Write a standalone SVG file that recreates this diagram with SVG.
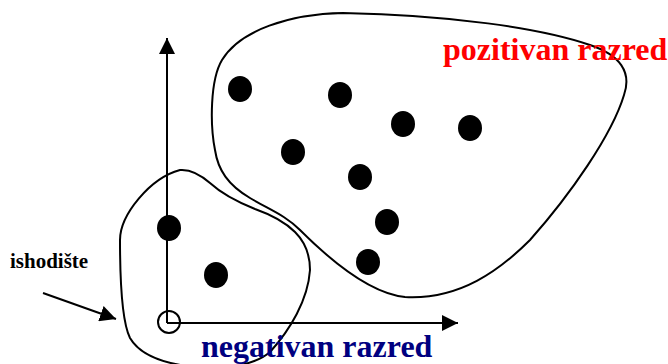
<svg xmlns="http://www.w3.org/2000/svg" width="668" height="364" viewBox="0 0 668 364">
  <style>
    .blob { fill: none; stroke: #000; stroke-width: 2; }
    .line { fill: none; stroke: #000; stroke-width: 2; }
    .pt { fill: #000; }
    .lbl { font-family: "Liberation Serif", "Times New Roman", serif; font-weight: bold; }
  </style>
  <defs>
    <marker id="arrow" markerUnits="userSpaceOnUse" viewBox="0 0 16 16" markerWidth="16" markerHeight="16" refX="16" refY="8" orient="auto">
      <path d="M0,0 L16,8 L0,16 Z" fill="#000"/>
    </marker>
  </defs>
  <rect width="668" height="364" fill="#fff"/>

  <g id="positive-class">
    <path class="blob" d="M343,13 C290,14 240,30 222,60 C210,80 210,125 215,150 C218,170 228,185 250,198 C270,210 285,215 300,230 C320,250 365,293 405,297 C460,300 500,270 530,240 C570,195 612,135 624,95 C632,72 620,55 590,45 C540,28 450,15 343,13 Z"/>
    <text class="lbl" x="443" y="60" font-size="32" fill="#ff0000">pozitivan razred</text>
  </g>

  <g id="negative-class">
    <path class="blob" d="M180,170 C192,169 202,176 210,183 C222,194 240,203 255,209 C272,215 285,222 295,232 C305,242 310,255 310,270 C308,300 290,330 270,352 C255,365 225,370 195,367 C165,364 140,355 130,338 C122,322 120,280 120,240 C120,215 150,178 180,170 Z"/>
    <text class="lbl" x="201" y="357" font-size="32" fill="#000080">negativan razred</text>
  </g>

  <g id="connectors">
    <line id="y-axis" class="line" x1="167" y1="323" x2="167" y2="38" marker-end="url(#arrow)"/>
    <line id="x-axis" class="line" x1="167" y1="323" x2="458" y2="323" marker-end="url(#arrow)"/>
    <line id="origin-pointer" class="line" x1="43" y1="293" x2="116" y2="319" marker-end="url(#arrow)"/>
  </g>

  <g id="origin">
    <circle cx="169" cy="322" r="11" fill="none" stroke="#000" stroke-width="2"/>
    <text class="lbl" x="10" y="268" font-size="21" fill="#000">ishodište</text>
  </g>

  <g id="points">
    <ellipse class="pt" cx="240" cy="89" rx="12" ry="13"/>
    <ellipse class="pt" cx="340" cy="95" rx="12" ry="13"/>
    <ellipse class="pt" cx="403" cy="124" rx="12" ry="13"/>
    <ellipse class="pt" cx="470" cy="128" rx="12" ry="13"/>
    <ellipse class="pt" cx="293" cy="152" rx="12" ry="13"/>
    <ellipse class="pt" cx="360" cy="177" rx="12" ry="13"/>
    <ellipse class="pt" cx="387" cy="222" rx="12" ry="13"/>
    <ellipse class="pt" cx="368" cy="262" rx="12" ry="13"/>
    <ellipse class="pt" cx="216" cy="275" rx="12" ry="13"/>
    <ellipse class="pt" cx="169" cy="228" rx="12" ry="13"/>
  </g>
</svg>
